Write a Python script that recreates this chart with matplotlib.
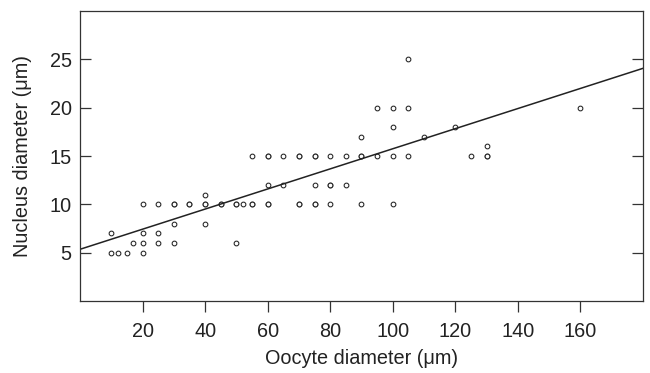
import numpy as np
import matplotlib.pyplot as plt

plt.rcParams['font.family'] = ['Liberation Sans', 'DejaVu Sans']

# oocyte vs nucleus diameter (um), repeated pairs are real repeats
oocyte = [10, 10, 12, 15, 17, 20, 20, 20, 20, 25, 25, 25,
          30, 30, 30, 30, 35, 35, 40, 40, 40, 40, 45, 45, 50, 50, 50, 52,
          55, 55, 55, 60, 60, 60, 60, 60, 65, 65, 70, 70, 70, 70,
          75, 75, 75, 75, 75, 80, 80, 80, 80, 85, 85, 90, 90, 90, 90,
          95, 95, 100, 100, 100, 100, 105, 105, 105, 110, 120, 125,
          130, 130, 130, 160]
nucleus = [7, 5, 5, 5, 6, 10, 7, 6, 5, 10, 7, 6,
           10, 10, 8, 6, 10, 10, 11, 10, 10, 8, 10, 10, 10, 10, 6, 10,
           10, 10, 15, 15, 12, 10, 10, 15, 15, 12, 15, 15, 10, 10,
           15, 15, 12, 10, 10, 15, 12, 12, 10, 15, 12, 17, 15, 15, 10,
           20, 15, 20, 18, 15, 10, 25, 20, 15, 17, 18, 15,
           16, 15, 15, 20]

# least-squares line as published
fit_intercept = 5.35
fit_slope = 0.104

fig = plt.figure(figsize=(6.5, 3.73), dpi=100)
ax = fig.add_axes([0.1231, 0.193, 0.8661, 0.7775])

ax.plot(oocyte, nucleus, linestyle='none', marker='o', markersize=3.4,
        markerfacecolor='white', markeredgecolor='#222222', markeredgewidth=0.75)
xs = np.array([0, 180])
ax.plot(xs, fit_intercept + fit_slope * xs, color='#222222', lw=1.1)

ax.set_xlim(0, 180)
ax.set_ylim(0, 30)
ax.set_xticks(range(20, 161, 20))
ax.set_yticks(range(5, 26, 5))

for s in ax.spines.values():
    s.set_color('#333333')
    s.set_linewidth(0.9)

ax.tick_params(axis='x', direction='out', length=8, width=0.9, color='#333333',
               pad=7, labelsize=14.3, labelcolor='#222222')
ax.tick_params(axis='y', direction='in', length=8, width=0.9, color='#333333',
               pad=6, labelsize=14.3, labelcolor='#222222', right=True)

ax.set_xlabel('Oocyte diameter (μm)', fontsize=14.3, color='#222222', labelpad=6)
ax.set_ylabel('Nucleus diameter (μm)', fontsize=14.3, color='#222222', labelpad=13)

fig.savefig('out.png', dpi=100)
